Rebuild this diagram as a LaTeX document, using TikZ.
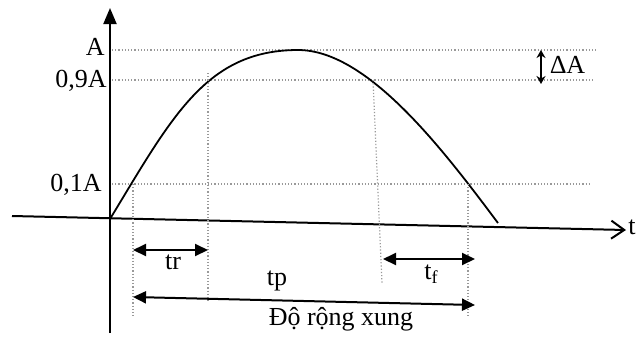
\documentclass[tikz,border=0pt]{standalone}
\usepackage{fontspec}
\setmainfont{Liberation Serif}
\usetikzlibrary{arrows.meta}

\begin{document}
\begin{tikzpicture}[x=0.5pt, y=-0.5pt, >=Triangle,
    guide/.style={densely dotted, gray!80, line width=0.6pt},
    lbl/.style={font=\fontsize{13}{15}\selectfont, inner sep=0pt},
    span/.style={{Triangle[length=6.5pt,width=6pt]}-{Triangle[length=6.5pt,width=6pt]}, line width=1pt}]
  \useasboundingbox (0,0) rectangle (638,339);
  \fill[white] (0,0) rectangle (638,339);

  % axes
  \coordinate (xs) at (12,216);
  \coordinate (xe) at (626,230);
  \coordinate (O)  at (110,219);
  \coordinate (ys) at (110,333);
  \coordinate (ye) at (110,8);
  \draw[line width=1pt, -{Straight Barb[length=6.5pt,width=9pt]}] (xs) -- (xe);
  \draw[line width=1pt, -{Triangle[length=8pt,width=6.5pt]}] (ys) -- (ye);
  \node[lbl, anchor=base west] (tlab) at (628,234) {t};

  % levels
  \coordinate (a0) at (112,50);  \coordinate (a1) at (597,50);
  \coordinate (n0) at (112,80);  \coordinate (n1) at (593,80);
  \coordinate (p0) at (112,184); \coordinate (p1) at (590,184);
  \draw[guide] (a0) -- (a1);
  \draw[guide] (n0) -- (n1);
  \draw[guide] (p0) -- (p1);
  \node[lbl, anchor=base east] (labA)  at (105,55)  {A};
  \node[lbl, anchor=base east] (lab09) at (107,87)  {0,9A};
  \node[lbl, anchor=base east] (lab01) at (102,191) {0,1A};

  % pulse
  \coordinate (pk) at (298,50);
  \coordinate (pe) at (498,223);
  \draw[line width=0.9pt] (O) .. controls (172,117) and (206,50) .. (pk)
    .. controls (368,50) and (444,151) .. (pe);

  % vertical guides
  \coordinate (v1t) at (133,184); \coordinate (v1b) at (133,317);
  \coordinate (v2t) at (208,73);  \coordinate (v2b) at (208,302);
  \coordinate (v3t) at (373,80);  \coordinate (v3b) at (382,283);
  \coordinate (v4t) at (468,184); \coordinate (v4b) at (468,318);
  \draw[guide] (v1t) -- (v1b);
  \draw[guide] (v2t) -- (v2b);
  \draw[guide] (v3t) -- (v3b);
  \draw[guide] (v4t) -- (v4b);

  % times
  \coordinate (tr0) at (133,250); \coordinate (tr1) at (208,250);
  \draw[span] (tr0) -- (tr1);
  \node[lbl, anchor=base] (labtr) at (173,269) {tr};

  \coordinate (tf0) at (383,259); \coordinate (tf1) at (475,259);
  \draw[span] (tf0) -- (tf1);
  \node[lbl, anchor=base west] (labtf) at (424,279) {t\textsubscript{f}};

  \coordinate (tp0) at (133,297); \coordinate (tp1) at (475,305);
  \draw[span] (tp0) -- (tp1);
  \node[lbl, anchor=base] (labtp) at (277,285) {tp};
  \node[lbl, anchor=base] (labw)  at (341,325) {Độ rộng xung};

  % delta A
  \coordinate (d0) at (541,50); \coordinate (d1) at (541,84);
  \draw[line width=1pt, {Stealth[length=4pt,width=4.5pt]}-{Stealth[length=4pt,width=4.5pt]}] (d0) -- (d1);
  \node[lbl, anchor=base west] (labd) at (550,73) {∆A};
\end{tikzpicture}
\end{document}
